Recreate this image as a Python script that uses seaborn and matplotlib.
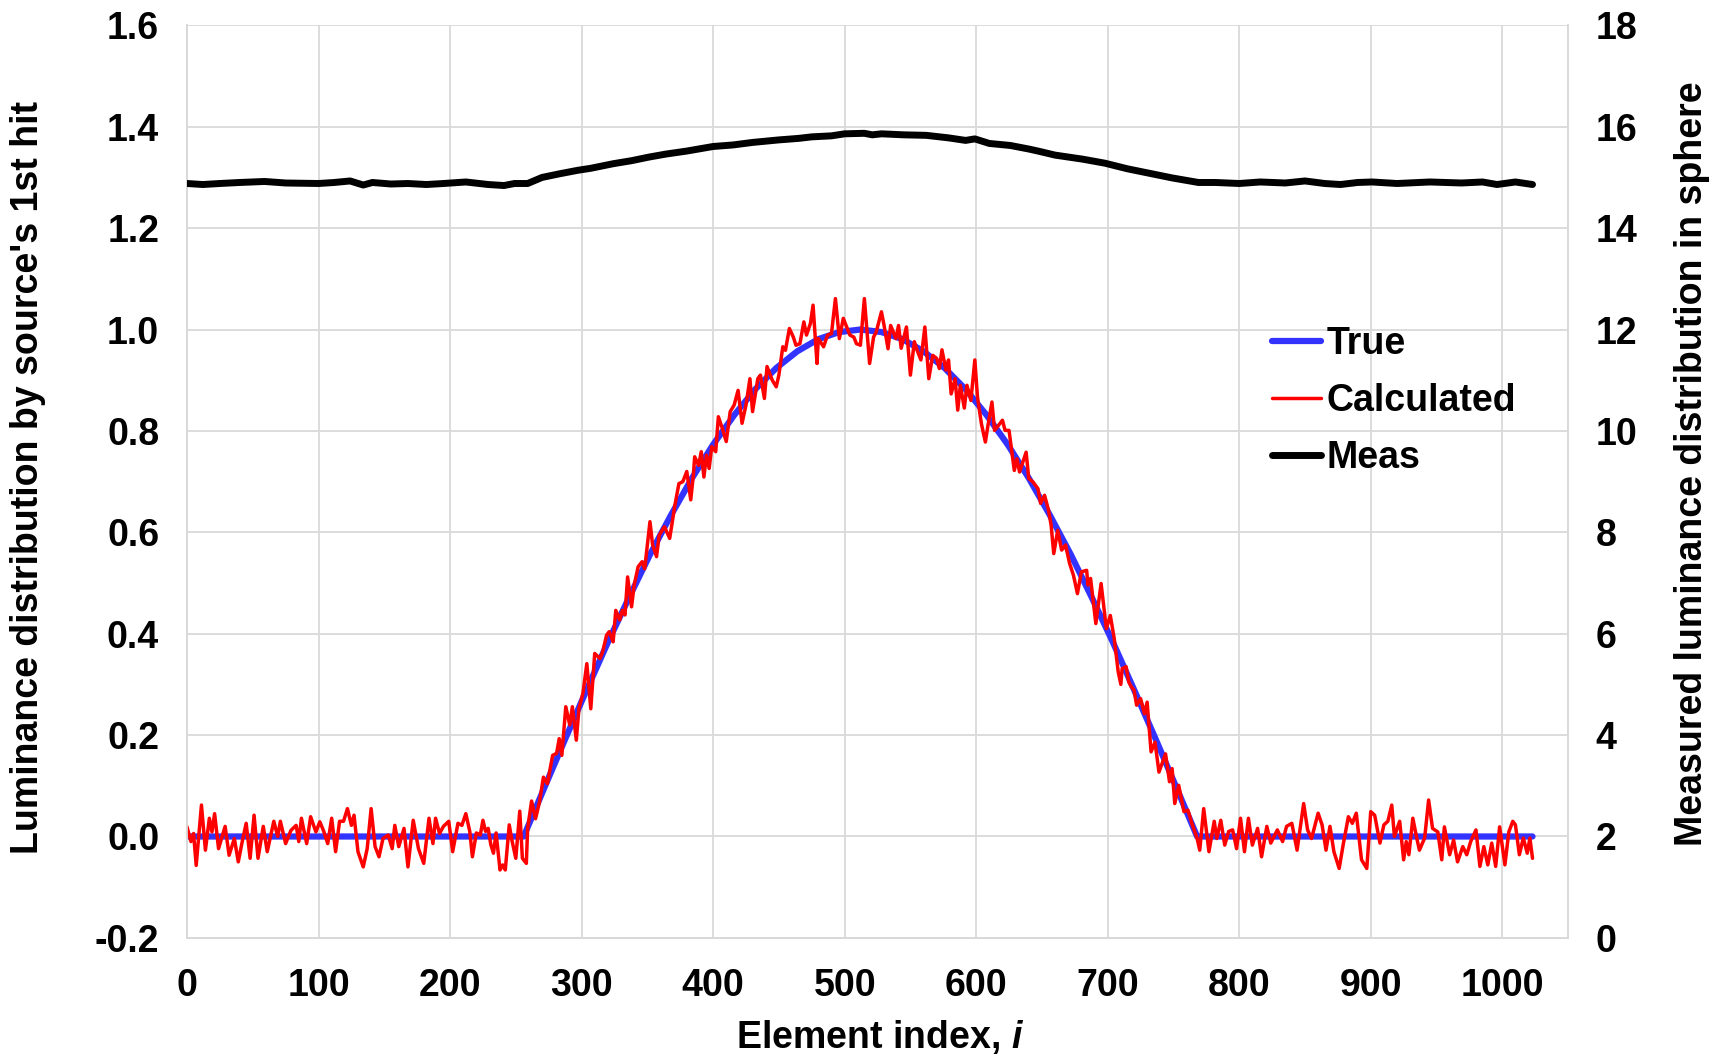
import numpy as np
import pandas as pd
import matplotlib
matplotlib.use("Agg")
import matplotlib.pyplot as plt
import seaborn as sns
from matplotlib.ticker import FormatStrFormatter

# ---------------- data ----------------
true_idx = [0, 256, 272, 288, 304, 320, 336, 352, 368, 384, 400, 416, 432, 448,
            464, 480, 496, 512, 528, 544, 560, 576, 592, 608, 624, 640, 656, 672,
            688, 704, 720, 736, 752, 768, 1023]
true_val = [0.0, 0.0, 0.098, 0.195, 0.290, 0.383, 0.471, 0.556, 0.634, 0.707, 0.773,
            0.831, 0.882, 0.924, 0.957, 0.981, 0.995, 1.0, 0.995, 0.981, 0.957, 0.924,
            0.882, 0.831, 0.773, 0.707, 0.634, 0.556, 0.471, 0.383, 0.290, 0.195,
            0.098, 0.0, 0.0]

calc_idx = [0, 3, 5, 7, 11, 14, 17, 19, 21, 24, 29, 32, 36, 39, 42, 45, 48, 51, 54, 58,
            61, 66, 69, 71, 75, 79, 83, 85, 87, 91, 94, 98, 101, 104, 107, 110, 113, 116,
            119, 122, 125, 127, 130, 134, 137, 140, 143, 146, 149, 153, 156, 158, 161,
            165, 168, 172, 176, 180, 184, 187, 189, 192, 195, 199, 202, 206, 209, 212,
            215, 217, 220, 223, 225, 227, 229, 231, 233, 235, 238, 240, 242, 245, 247,
            250, 253, 255, 258, 259, 262, 265, 268, 271, 274, 278, 281, 283, 285, 288,
            291, 293, 296, 298, 301, 304, 307, 310, 314, 316, 319, 321, 324, 326, 329,
            331, 333, 335, 338, 340, 343, 346, 348, 352, 354, 357, 359, 363, 367, 369,
            371, 374, 377, 380, 383, 385, 386, 389, 391, 393, 395, 397, 399, 402, 404,
            407, 410, 413, 416, 419, 422, 425, 428, 430, 434, 436, 439, 441, 445, 448,
            450, 453, 455, 458, 461, 463, 466, 469, 471, 474, 476, 479, 480, 484, 487,
            490, 493, 496, 499, 502, 504, 507, 509, 512, 515, 519, 522, 524, 528, 530,
            533, 535, 539, 541, 543, 547, 550, 553, 555, 558, 561, 564, 567, 570, 572,
            574, 577, 579, 581, 584, 586, 588, 591, 593, 596, 599, 601, 604, 607, 609,
            612, 614, 617, 620, 622, 625, 629, 631, 633, 638, 640, 643, 647, 649, 652,
            655, 657, 659, 662, 665, 668, 671, 674, 677, 680, 684, 685, 687, 691, 695,
            699, 702, 705, 708, 710, 711, 714, 716, 718, 720, 722, 725, 728, 730, 733,
            736, 739, 744, 747, 749, 751, 754, 758, 761, 764, 768, 770, 773, 777, 781,
            783, 786, 789, 792, 795, 798, 801, 804, 807, 810, 814, 817, 821, 824, 829,
            833, 836, 840, 844, 849, 852, 855, 860, 863, 866, 869, 872, 876, 879, 883,
            886, 889, 893, 897, 900, 903, 907, 910, 913, 916, 918, 922, 925, 927, 929,
            932, 935, 937, 941, 944, 947, 951, 954, 956, 960, 963, 966, 970, 973, 976,
            980, 983, 986, 989, 992, 995, 998, 1002, 1005, 1008, 1010, 1013, 1016, 1019,
            1021, 1023]
calc_val = [0.019, -0.010, 0.006, -0.057, 0.062, -0.027, 0.036, 0.009, 0.045, -0.024,
            0.020, -0.037, -0.004, -0.050, -0.010, 0.026, -0.043, 0.042, -0.043, 0.020,
            -0.030, 0.030, 0.000, 0.030, -0.014, 0.012, 0.022, -0.010, 0.036, -0.014,
            0.039, 0.009, 0.029, 0.010, -0.014, 0.036, -0.030, 0.030, 0.030, 0.055,
            0.022, 0.042, -0.030, -0.060, -0.024, 0.055, -0.020, -0.040, -0.004, 0.003,
            -0.024, 0.022, -0.020, 0.016, -0.060, 0.032, -0.024, -0.053, 0.036, -0.014,
            0.036, 0.006, 0.020, 0.030, -0.030, 0.026, 0.022, 0.045, 0.010, -0.040,
            0.007, 0.003, 0.032, 0.010, 0.016, -0.016, -0.033, 0.007, -0.066, -0.056,
            -0.066, 0.023, -0.007, -0.043, 0.050, -0.043, -0.053, 0.016, 0.070, 0.035,
            0.068, 0.117, 0.104, 0.160, 0.164, 0.193, 0.160, 0.256, 0.220, 0.256, 0.190,
            0.252, 0.282, 0.341, 0.252, 0.361, 0.351, 0.364, 0.397, 0.404, 0.384, 0.446,
            0.427, 0.446, 0.437, 0.512, 0.453, 0.496, 0.532, 0.542, 0.528, 0.621, 0.575,
            0.552, 0.594, 0.611, 0.588, 0.621, 0.654, 0.696, 0.700, 0.720, 0.664, 0.713,
            0.749, 0.732, 0.759, 0.709, 0.752, 0.726, 0.769, 0.759, 0.828, 0.805, 0.779,
            0.838, 0.851, 0.880, 0.815, 0.851, 0.903, 0.838, 0.903, 0.910, 0.864, 0.927,
            0.900, 0.887, 0.910, 0.966, 0.959, 1.002, 0.985, 0.969, 0.972, 1.015, 0.989,
            1.012, 1.048, 0.933, 0.982, 0.966, 0.989, 0.992, 1.061, 0.982, 1.022, 1.002,
            0.989, 0.985, 0.972, 0.969, 1.061, 0.933, 0.985, 0.995, 1.035, 1.008, 0.962,
            1.008, 0.982, 1.008, 0.963, 1.005, 0.910, 0.976, 0.960, 0.940, 1.005, 0.903,
            0.949, 0.943, 0.923, 0.960, 0.920, 0.940, 0.873, 0.903, 0.841, 0.890, 0.845,
            0.890, 0.860, 0.940, 0.867, 0.814, 0.778, 0.811, 0.857, 0.801, 0.811, 0.821,
            0.801, 0.801, 0.722, 0.745, 0.719, 0.758, 0.706, 0.700, 0.686, 0.657, 0.673,
            0.644, 0.614, 0.558, 0.604, 0.565, 0.575, 0.539, 0.515, 0.479, 0.522, 0.525,
            0.496, 0.509, 0.420, 0.499, 0.410, 0.436, 0.390, 0.325, 0.300, 0.331, 0.335,
            0.305, 0.295, 0.289, 0.259, 0.272, 0.242, 0.265, 0.167, 0.186, 0.127, 0.163,
            0.108, 0.134, 0.065, 0.101, 0.049, 0.052, 0.026, -0.004, -0.027, 0.055,
            -0.030, 0.030, -0.004, 0.032, -0.017, 0.010, 0.013, -0.024, 0.036, -0.030,
            0.036, -0.017, 0.016, -0.040, 0.020, -0.013, 0.013, -0.010, 0.020, 0.026,
            -0.027, 0.065, 0.013, -0.004, 0.046, 0.023, -0.027, 0.020, -0.030, -0.063,
            -0.017, 0.039, 0.026, 0.046, -0.046, -0.063, 0.049, 0.042, -0.013, 0.023,
            0.030, 0.062, 0.000, 0.030, -0.046, -0.010, -0.036, 0.036, -0.003, -0.027,
            -0.003, 0.072, 0.016, 0.009, -0.046, 0.019, -0.036, -0.007, -0.050, -0.020,
            -0.036, -0.010, 0.013, -0.059, -0.020, -0.056, -0.013, -0.059, 0.019,
            -0.056, 0.009, 0.030, 0.023, -0.036, -0.003, -0.033, -0.003, -0.043]

meas_idx = [0, 12, 25, 40, 59, 75, 100, 112, 124, 134, 141, 155, 168, 182, 195, 212,
            229, 241, 249, 259, 270, 283, 297, 307, 324, 338, 351, 364, 380, 400, 415,
            430, 450, 465, 475, 490, 500, 515, 521, 528, 545, 562, 579, 592, 599, 610,
            626, 640, 647, 660, 681, 698, 715, 732, 749, 769, 782, 800, 816, 835, 850,
            865, 877, 890, 901, 920, 945, 969, 985, 996, 1010, 1023]
meas_val = [14.88, 14.86, 14.88, 14.90, 14.92, 14.89, 14.88, 14.90, 14.93, 14.85,
            14.90, 14.87, 14.88, 14.86, 14.88, 14.91, 14.86, 14.84, 14.88, 14.88, 15.00,
            15.07, 15.14, 15.18, 15.27, 15.33, 15.40, 15.46, 15.52, 15.61, 15.64, 15.69,
            15.74, 15.77, 15.80, 15.82, 15.86, 15.87, 15.84, 15.86, 15.84, 15.83, 15.78,
            15.73, 15.76, 15.67, 15.63, 15.56, 15.52, 15.44, 15.36, 15.28, 15.17, 15.08,
            14.99, 14.90, 14.90, 14.88, 14.91, 14.89, 14.93, 14.88, 14.86, 14.90, 14.91,
            14.88, 14.91, 14.89, 14.91, 14.86, 14.91, 14.86]

left_ticks = [-0.2, 0.0, 0.2, 0.4, 0.6, 0.8, 1.0, 1.2, 1.4, 1.6]
right_ticks = [0, 2, 4, 6, 8, 10, 12, 14, 16, 18]
x_ticks = [0, 100, 200, 300, 400, 500, 600, 700, 800, 900, 1000]

# ---------------- style ----------------
sns.set_theme(style="white")
plt.rcParams['font.family'] = ['Liberation Sans', 'DejaVu Sans']
plt.rcParams['font.weight'] = 'bold'
plt.rcParams['axes.labelweight'] = 'bold'
plt.rcParams['axes.labelcolor'] = 'black'
plt.rcParams['text.color'] = 'black'
plt.rcParams['xtick.color'] = 'black'
plt.rcParams['ytick.color'] = 'black'
plt.rcParams['mathtext.fontset'] = 'custom'
plt.rcParams['mathtext.it'] = 'Liberation Sans:italic:bold'
plt.rcParams['mathtext.rm'] = 'Liberation Sans:bold'

FS = 27
GRID = '#d9d9d9'

fig = plt.figure(figsize=(17.25, 10.55), dpi=100)
ax = fig.add_axes([0.1084, 0.111, 0.8006, 0.865])
ax2 = ax.twinx()

df_true = pd.DataFrame({'i': true_idx, 'v': true_val})
df_calc = pd.DataFrame({'i': calc_idx, 'v': calc_val})
df_meas = pd.DataFrame({'i': meas_idx, 'v': meas_val})

sns.lineplot(data=df_true, x='i', y='v', ax=ax, color='#3333FF', lw=4.5,
             estimator=None, sort=False, label='True', zorder=2)
sns.lineplot(data=df_calc, x='i', y='v', ax=ax, color='#FF0000', lw=2.5,
             estimator=None, sort=False, label='Calculated', zorder=3)
sns.lineplot(data=df_meas, x='i', y='v', ax=ax2, color='black', lw=5,
             estimator=None, sort=False, label='Meas', zorder=3)

h1, l1 = ax.get_legend_handles_labels()
h2, l2 = ax2.get_legend_handles_labels()
for a in (ax, ax2):
    if a.get_legend() is not None:
        a.get_legend().remove()

ax.set_xlim(0, 1050)
ax.set_ylim(-0.2, 1.6)
ax2.set_ylim(0, 18)
ax.set_xticks(x_ticks)
ax.set_yticks(left_ticks)
ax2.set_yticks(right_ticks)
ax.yaxis.set_major_formatter(FormatStrFormatter('%.1f'))

ax.grid(True, color=GRID, lw=1.3)
ax2.grid(False)
for a in (ax, ax2):
    for s in a.spines.values():
        s.set_color(GRID)
        s.set_linewidth(1.3)
ax.spines['top'].set_visible(False)
ax2.spines['top'].set_visible(False)

ax.tick_params(axis='y', length=0, labelsize=FS, pad=20, labelcolor='black')
ax.tick_params(axis='x', length=0, labelsize=FS, pad=22, labelcolor='black')
ax2.tick_params(axis='y', length=0, labelsize=FS, pad=20, labelcolor='black')
for lab in ax.get_xticklabels() + ax.get_yticklabels() + ax2.get_yticklabels():
    lab.set_fontweight('bold')

ax.set_xlabel('Element index, $i$', fontsize=FS, fontweight='bold', color='black')
ax.set_ylabel("Luminance distribution by source's 1st hit", fontsize=FS,
              fontweight='bold', color='black')
ax2.set_ylabel('Measured luminance distribution in sphere', fontsize=FS,
               fontweight='bold', color='black')
ax.xaxis.set_label_coords(0.502, -0.088)
ax.yaxis.set_label_coords(-0.102, 0.505)
ax2.yaxis.set_label_coords(1.077, 0.52)

leg = ax2.legend(h1 + h2, l1 + l2, loc='upper left', bbox_to_anchor=(0.786, 0.67),
                 frameon=False, fontsize=FS, handlelength=1.3, handletextpad=0.15,
                 labelspacing=0.55, borderaxespad=0, borderpad=0)
for t in leg.get_texts():
    t.set_fontweight('bold')
    t.set_color('black')

fig.savefig('out.png', dpi=100)
